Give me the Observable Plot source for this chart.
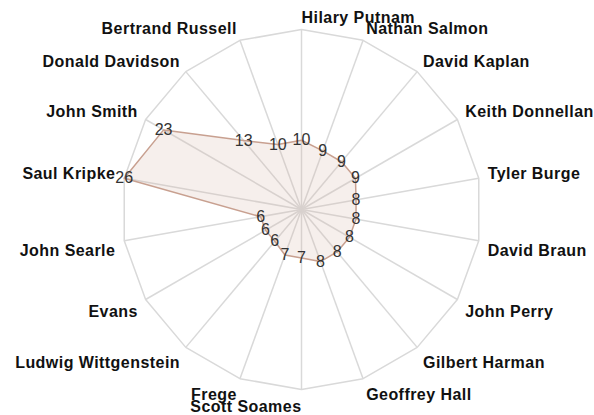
<!DOCTYPE html>
<html>
<head>
<meta charset="utf-8">
<script src="https://cdn.jsdelivr.net/npm/d3@7"></script>
<script src="https://cdn.jsdelivr.net/npm/@observablehq/plot@0.6"></script>
<style>
  html, body { margin: 0; padding: 0; background: #fff; }
  #chart svg { display: block; font-family: "Liberation Sans", Arial, sans-serif; }
  #chart g[font-weight="bold"] text { letter-spacing: 0.45px; }
</style>
</head>
<body>
<div id="chart"></div>
<script>
const categories = ["Hilary Putnam", "Nathan Salmon", "David Kaplan", "Keith Donnellan", "Tyler Burge",
  "David Braun", "John Perry", "Gilbert Harman", "Geoffrey Hall", "Scott Soames", "Frege",
  "Ludwig Wittgenstein", "Evans", "John Searle", "Saul Kripke", "John Smith", "Donald Davidson",
  "Bertrand Russell"];
const values = [10, 9, 9, 9, 8, 8, 8, 8, 8, 7, 7, 6, 6, 6, 26, 23, 13, 10];
const maxValue = 26;

const n = categories.length;
const pxPerUnit = 180 / maxValue;
const labelRadius = maxValue + 9 / pxPerUnit;
const angle = (i) => (2 * Math.PI * i) / n;
const round = (v) => Math.round(v * 1e9) / 1e9;

const points = categories.map((c, i) => ({
  category: c,
  value: values[i],
  x: values[i] * Math.sin(angle(i)),
  y: values[i] * Math.cos(angle(i))
}));
const axes = categories.map((c, i) => {
  const s = round(Math.sin(angle(i))), co = round(Math.cos(angle(i)));
  return {
    category: c,
    x: maxValue * s,
    y: maxValue * co,
    lx: labelRadius * s,
    ly: labelRadius * co,
    right: i === 0 || (s > 0),
    top: co > 0
  };
});

const labelStyle = {x: "lx", y: "ly", text: "category", fontSize: 16, fontWeight: "bold", fill: "#111", dy: 2};

const chart = Plot.plot({
  width: 594,
  height: 415,
  marginLeft: 121,
  marginRight: 113,
  marginTop: 29,
  marginBottom: 26,
  x: {domain: [-maxValue, maxValue], axis: null},
  y: {domain: [-maxValue, maxValue], axis: null},
  style: {fontFamily: "'Liberation Sans', Arial, sans-serif", background: "#fff", overflow: "visible"},
  marks: [
    Plot.link(axes, {x1: 0, y1: 0, x2: "x", y2: "y", stroke: "#d9d9d9", strokeWidth: 1.5}),
    Plot.line(axes, {x: "x", y: "y", curve: "linear-closed", stroke: "#d9d9d9", strokeWidth: 1.5}),
    Plot.line(points, {x: "x", y: "y", curve: "linear-closed", fill: "#d8b8a8", fillOpacity: 0.22, stroke: "#c8a090", strokeWidth: 1.5}),
    Plot.text(points, {x: "x", y: "y", text: "value", fontSize: 16, fill: "#333"}),
    Plot.text(axes.filter(d => d.right && d.top), {...labelStyle, textAnchor: "start", lineAnchor: "bottom"}),
    Plot.text(axes.filter(d => d.right && !d.top), {...labelStyle, textAnchor: "start", lineAnchor: "top"}),
    Plot.text(axes.filter(d => !d.right && d.top), {...labelStyle, textAnchor: "end", lineAnchor: "bottom"}),
    Plot.text(axes.filter(d => !d.right && !d.top), {...labelStyle, textAnchor: "end", lineAnchor: "top"})
  ]
});
document.getElementById("chart").append(chart);
</script>
</body>
</html>
